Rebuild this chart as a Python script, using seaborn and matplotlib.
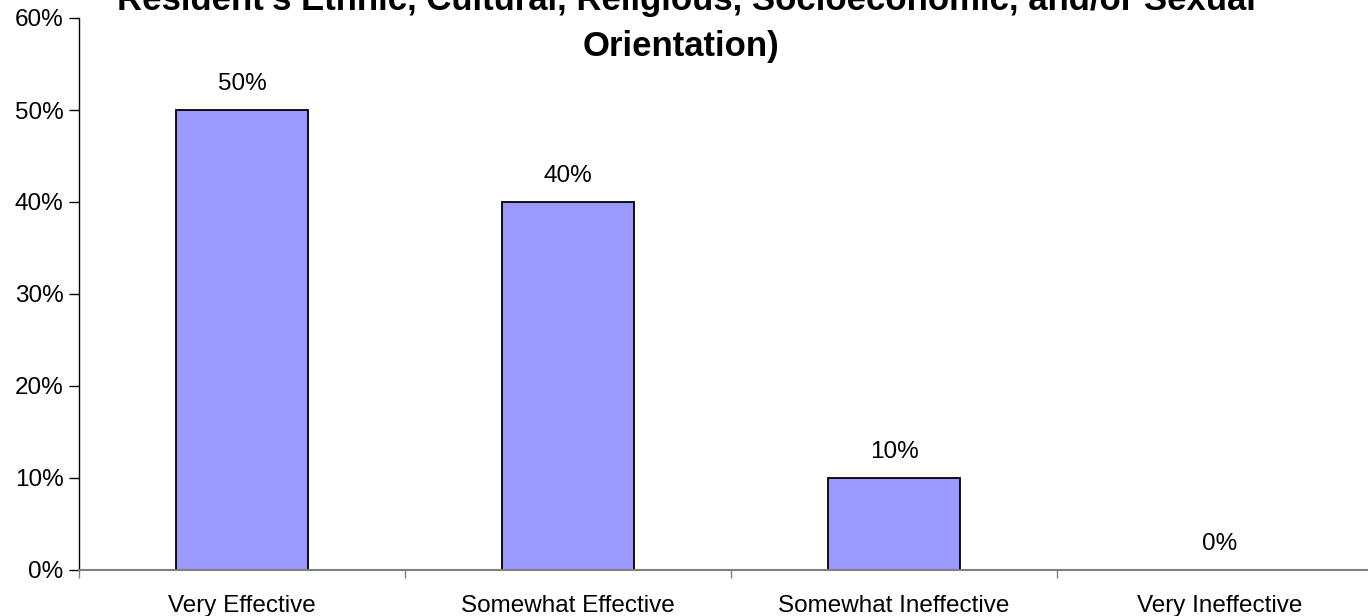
import numpy as np
import pandas as pd
import matplotlib
matplotlib.use('Agg')
import matplotlib.pyplot as plt
import seaborn as sns
from matplotlib.ticker import FixedLocator, PercentFormatter

# survey answers and their shares (percent)
categories = ['Very Effective', 'Somewhat Effective', 'Somewhat Ineffective', 'Very Ineffective']
shares = [50, 40, 10, 0]
title_lines = ["Resident's Ethnic, Cultural, Religious, Socioeconomic, and/or Sexual",
               'Orientation)']

sns.set_style('white')
plt.rcParams['font.family'] = ['Liberation Sans', 'DejaVu Sans']
plt.rcParams['text.color'] = 'black'
plt.rcParams['xtick.color'] = 'black'
plt.rcParams['ytick.color'] = 'black'

df = pd.DataFrame({'answer': categories, 'share': shares})

fig = plt.figure(figsize=(13.68, 6.16), dpi=100)
ax = fig.add_axes([79 / 1368, 1 - 570 / 616, 1304 / 1368, 552 / 616])

sns.barplot(data=df, x='answer', y='share', color='#9999FF', width=0.405,
            edgecolor='black', linewidth=1.3, saturation=1, ax=ax)

ax.set_xlim(-0.5, len(categories) - 0.5)
ax.set_ylim(0, 60)
ax.set_yticks(range(0, 61, 10))
ax.yaxis.set_major_formatter(PercentFormatter(decimals=0))
ax.set_xlabel('')
ax.set_ylabel('')

for s in ['top', 'right']:
    ax.spines[s].set_visible(False)
ax.spines['left'].set_color('black')
ax.spines['left'].set_linewidth(1.0)
ax.spines['bottom'].set_color('#808080')
ax.spines['bottom'].set_linewidth(1.5)

ax.tick_params(axis='y', direction='out', length=7, width=1, color='black',
               labelsize=17.5, pad=4, left=True, labelcolor='black')
ax.tick_params(axis='x', which='major', length=0, labelsize=17.5, pad=18,
               labelcolor='black')
ax.xaxis.set_minor_locator(FixedLocator(np.arange(-0.5, len(categories), 1.0)))
ax.tick_params(axis='x', which='minor', direction='out', length=6, width=1,
               color='#808080', bottom=True)

for i, v in enumerate(shares):
    ax.annotate(f'{v}%', (i, v), xytext=(0, 11), textcoords='offset points',
                ha='center', va='bottom', fontsize=17.5, color='black')

fig.text(686 / 1368, 1 - 10 / 616, title_lines[0], ha='center', va='baseline',
         fontsize=25, fontweight='bold', color='black')
fig.text(681 / 1368, 1 - 56 / 616, title_lines[1], ha='center', va='baseline',
         fontsize=25, fontweight='bold', color='black')

fig.savefig('out.png', dpi=100)
